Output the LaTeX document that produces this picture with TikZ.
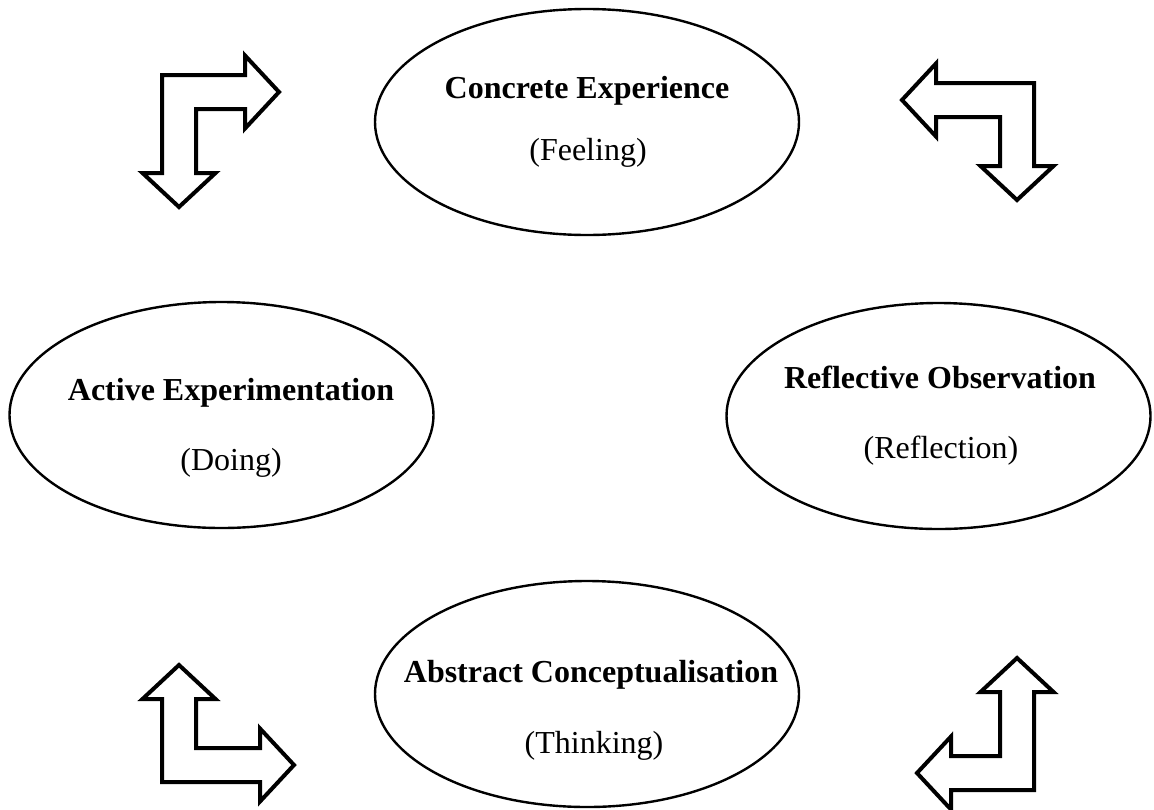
\documentclass[tikz,border=0pt]{standalone}
\usepackage{fontspec}
\setmainfont{Liberation Serif}
\usetikzlibrary{shapes.geometric}

\tikzset{
  bendarrow/.pic={
    \draw[arrowline] (0,0) -- (83,0) -- (83,-19.5) -- (117,17) -- (83,53.5) -- (83,34)
      -- (34,34) -- (34,98) -- (53.5,98) -- (17,132) -- (-19.5,98) -- (0,98) -- cycle;
  }
}

\begin{document}
\begin{tikzpicture}[
    x=0.5pt, y=-0.5pt,
    stage/.style={ellipse, draw, line width=1.2pt, minimum width=212pt, minimum height=113pt, inner sep=0pt},
    title/.style={font=\fontsize{16}{19}\selectfont\bfseries, anchor=base, inner sep=0pt},
    sub/.style={font=\fontsize{16}{19}\selectfont, anchor=base, inner sep=0pt},
    arrowline/.style={line width=2pt, fill=white}
]
\fill[white] (0,0) rectangle (1154,809);
\useasboundingbox (0,0) rectangle (1154,809);

% the four stages
\node[stage] (ce) at (587,122) {};
\node[title] (ce-title) at (587,98) {Concrete Experience};
\node[sub] (ce-sub) at (588,160) {(Feeling)};

\node[stage] (ae) at (221.5,415) {};
\node[title] (ae-title) at (231,400) {Active Experimentation};
\node[sub] (ae-sub) at (231,470) {(Doing)};

\node[stage] (ro) at (938.5,416) {};
\node[title] (ro-title) at (940,388) {Reflective Observation};
\node[sub] (ro-sub) at (941,458) {(Reflection)};

\node[stage] (ac) at (587,694) {};
\node[title] (ac-title) at (591,682) {Abstract Conceptualisation};
\node[sub] (ac-sub) at (594,753) {(Thinking)};

% corner arrows
\pic (tl) at (162,75) {bendarrow};
\pic[rotate=-90] (tr) at (1034,83) {bendarrow};
\pic[rotate=180] (br) at (1034,790) {bendarrow};
\pic[rotate=90] (bl) at (162,782) {bendarrow};
\end{tikzpicture}
\end{document}
